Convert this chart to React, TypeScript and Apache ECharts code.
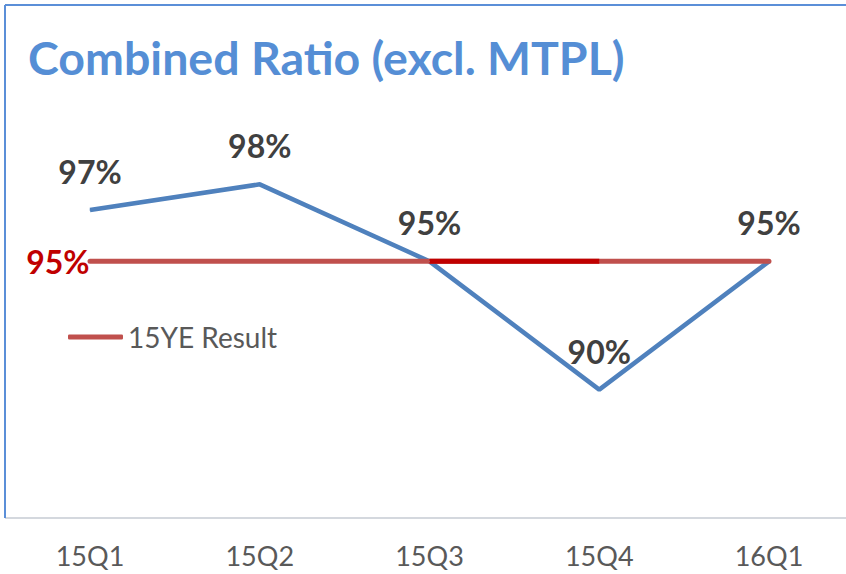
import React, { useEffect, useRef } from "react";
import * as echarts from "echarts";

const categories = ["15Q1", "15Q2", "15Q3", "15Q4", "16Q1"];
const combinedRatio = [97, 98, 95, 90, 95];
const ye15Result = [95, 95, 95, 95, 95];
const highlightSegment: (number | null)[] = [null, null, 95, 95, null];
const titleText = "Combined Ratio (excl. MTPL)";
const legendName = "15YE Result";

const FONT = "Lato, 'Open Sans', sans-serif";

export default function App() {
  const ref = useRef<HTMLDivElement>(null);
  useEffect(() => {
    const chart = echarts.init(ref.current!, null, { renderer: "svg" });
    chart.setOption({
      animation: false,
      backgroundColor: "#ffffff",
      title: {
        text: titleText,
        left: 23,
        top: 28,
        textStyle: { color: "#558ED5", fontSize: 46.5, fontWeight: "bold", fontFamily: FONT },
      },
      legend: {
        data: [legendName],
        left: 63,
        top: 318,
        icon: "roundRect",
        itemWidth: 55,
        itemHeight: 5,
        textStyle: { color: "#595959", fontSize: 28, fontFamily: FONT },
      },
      grid: { left: 90, right: 77, top: 133, bottom: 56 },
      xAxis: {
        type: "category",
        data: categories,
        boundaryGap: false,
        axisLine: { show: false },
        axisTick: { show: false },
        axisLabel: { color: "#595959", fontSize: 27, margin: 24, fontFamily: FONT },
      },
      yAxis: {
        type: "value",
        min: 85,
        max: 100,
        show: false,
        splitLine: { show: false },
      },
      graphic: [
        { type: "line", shape: { x1: 5, y1: 518, x2: 846, y2: 518 }, style: { stroke: "#D4D8DE", lineWidth: 2 } },
        { type: "line", shape: { x1: 5, y1: 5, x2: 846, y2: 5 }, style: { stroke: "#5B8FD8", lineWidth: 2 } },
        { type: "line", shape: { x1: 5, y1: 5, x2: 5, y2: 518 }, style: { stroke: "#5B8FD8", lineWidth: 2 } },
      ],
      series: [
        {
          type: "line",
          name: "Combined Ratio",
          data: combinedRatio,
          symbol: "circle",
          symbolSize: 1,
          itemStyle: { color: "#4F81BD" },
          lineStyle: { color: "#4F81BD", width: 4.5 },
          label: {
            show: true,
            position: "top",
            distance: 22,
            formatter: "{c}%",
            fontSize: 32,
            fontWeight: "bold",
            color: "#404040",
            fontFamily: FONT,
          },
        },
        {
          type: "line",
          name: legendName,
          data: ye15Result.map((v, i) =>
            i === 0
              ? {
                  value: v,
                  label: {
                    show: true,
                    position: "left",
                    distance: 0,
                    formatter: "{c}%",
                    fontSize: 32,
                    fontWeight: "bold",
                    color: "#C00000",
                    fontFamily: FONT,
                  },
                }
              : v
          ),
          symbol: "circle",
          symbolSize: 1,
          itemStyle: { color: "#C0504D" },
          lineStyle: { color: "#C0504D", width: 5, cap: "round" },
        },
        {
          type: "line",
          name: "highlight",
          data: highlightSegment,
          symbol: "none",
          lineStyle: { color: "#C00000", width: 5 },
          itemStyle: { color: "#C00000" },
        },
      ],
    });
    return () => chart.dispose();
  }, []);
  return <div ref={ref} style={{ position: "absolute", left: 0, top: 0, width: 846, height: 574 }} />;
}
